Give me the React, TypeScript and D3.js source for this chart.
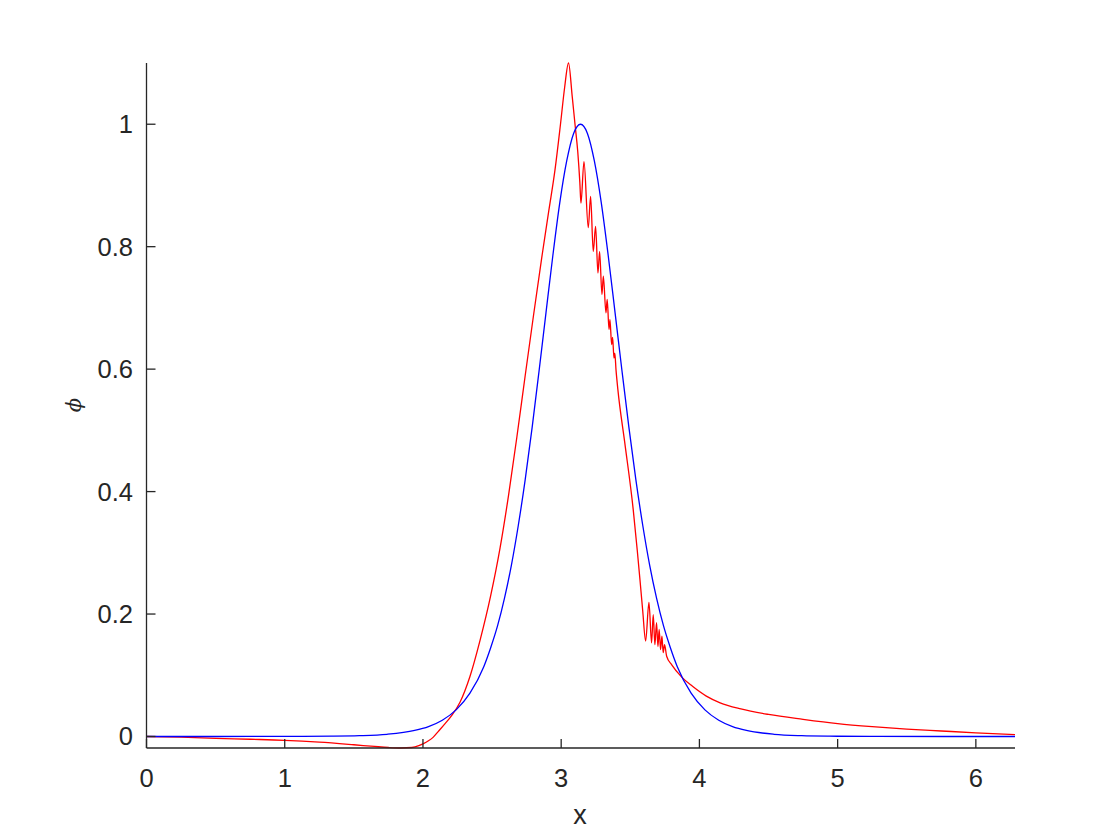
import React from "react";
import * as d3 from "d3";

const xTicks = [0, 1, 2, 3, 4, 5, 6];
const yTicks = [0, 0.2, 0.4, 0.6, 0.8, 1];
const yTickLabels = ["0", "0.2", "0.4", "0.6", "0.8", "1"];

const blueX = [0, 0.5, 1.0, 1.34, 1.54, 1.74, 1.94, 2.04, 2.14, 2.24, 2.34, 2.44, 2.49, 2.54, 2.59, 2.64, 2.69, 2.74, 2.79, 2.84, 2.89, 2.94, 2.99, 3.04, 3.09, 3.14,
  3.19, 3.24, 3.29, 3.34, 3.39, 3.44, 3.49, 3.54, 3.59, 3.64, 3.69, 3.74, 3.79, 3.84, 3.94, 4.04, 4.14, 4.24, 4.34, 4.54, 4.74, 4.94, 5.28, 5.78, 6.283];
const blueY = [0, 0, 0.0001, 0.0005, 0.0013, 0.0036, 0.0099, 0.0162, 0.0266, 0.0435, 0.0707, 0.114, 0.145, 0.181, 0.226, 0.28, 0.345, 0.42, 0.505, 0.597, 0.692, 0.786, 0.872, 0.94, 0.985, 1.0,
  0.985, 0.94, 0.872, 0.786, 0.692, 0.597, 0.505, 0.42, 0.345, 0.28, 0.226, 0.181, 0.145, 0.114, 0.0707, 0.0435, 0.0266, 0.0162, 0.0099, 0.0036, 0.0013, 0.0005, 0.0001, 0, 0];

const redX = [0, 0.25, 0.5, 0.75, 1.0, 1.25, 1.5, 1.65, 1.75, 1.84, 1.92, 1.97, 2.0, 2.04, 2.075, 2.11, 2.16, 2.21, 2.268, 2.34, 2.413, 2.49, 2.558,
  2.62, 2.68, 2.74, 2.8, 2.86, 2.91, 2.955, 2.995, 3.025, 3.053, 3.08, 3.1, 3.12, 3.135, 3.143,
  3.165, 3.196, 3.213, 3.232, 3.249, 3.266, 3.278, 3.295, 3.305, 3.324, 3.333, 3.346, 3.353, 3.365, 3.372, 3.382, 3.388, 3.397,
  3.41, 3.46, 3.521, 3.55, 3.57, 3.59, 3.611, 3.635, 3.654, 3.666, 3.678, 3.69, 3.7, 3.709, 3.719, 3.729, 3.738, 3.748, 3.763,
  3.8, 3.872, 3.95, 4.05, 4.15, 4.3, 4.5, 4.75, 5.0, 5.25, 5.5, 5.75, 6.0, 6.283];
const redY = [0, -0.0012, -0.003, -0.0045, -0.0062, -0.0092, -0.0135, -0.0163, -0.018, -0.0188, -0.018, -0.015, -0.012, -0.007, -0.001, 0.008, 0.021, 0.035, 0.056, 0.098, 0.157, 0.23, 0.308,
  0.395, 0.49, 0.59, 0.688, 0.783, 0.858, 0.925, 1.0, 1.06, 1.1, 1.045, 1.0, 0.955, 0.905, 0.871,
  0.939, 0.831, 0.882, 0.792, 0.833, 0.757, 0.792, 0.722, 0.752, 0.692, 0.714, 0.665, 0.681, 0.64, 0.652, 0.618, 0.626, 0.598,
  0.567, 0.48, 0.371, 0.305, 0.256, 0.205, 0.156, 0.219, 0.153, 0.199, 0.15, 0.186, 0.147, 0.175, 0.142, 0.164, 0.137, 0.15, 0.131,
  0.117, 0.097, 0.082, 0.066, 0.055, 0.045, 0.036, 0.028, 0.021, 0.016, 0.012, 0.009, 0.006, 0.003];

const W = 1120, H = 840;
const left = 146.5, right = 1015, top = 63, bottom = 748;
const axisColor = "#262626";
const font = "'Liberation Sans', Arial, Helvetica, sans-serif";

export default function App() {
  const x = d3.scaleLinear().domain([0, 2 * Math.PI]).range([left, right]);
  const y = d3.scaleLinear().domain([-0.0188, 1.1]).range([bottom, top]);
  const line = d3.line<[number, number]>().x(d => x(d[0])).y(d => y(d[1])).curve(d3.curveMonotoneX);
  const blue = line(blueX.map((v, i) => [v, blueY[i]] as [number, number])) || "";
  const red = line(redX.map((v, i) => [v, redY[i]] as [number, number])) || "";
  return (
    <svg width={W} height={H} style={{ position: "absolute", left: 0, top: 0, background: "#fff" }}>
      <rect x={0} y={0} width={W} height={H} fill="#fff" />
      <path d={red} fill="none" stroke="#ff0000" strokeWidth={1.3} />
      <path d={blue} fill="none" stroke="#0000ff" strokeWidth={1.3} />
      <line x1={left} x2={right} y1={bottom} y2={bottom} stroke={axisColor} strokeWidth={1.3} />
      <line x1={left} x2={left} y1={top} y2={bottom} stroke={axisColor} strokeWidth={1.3} />
      {xTicks.map(t => (
        <g key={"x" + t}>
          <line x1={x(t)} x2={x(t)} y1={bottom} y2={bottom - 9} stroke={axisColor} strokeWidth={1.3} />
          <text x={x(t)} y={787} textAnchor="middle" fontFamily={font} fontSize={25.5} fill={axisColor}>{t}</text>
        </g>
      ))}
      {yTicks.map((t, i) => (
        <g key={"y" + t}>
          <line x1={left} x2={left + 9} y1={y(t)} y2={y(t)} stroke={axisColor} strokeWidth={1.3} />
          <text x={133} y={y(t) + 9} textAnchor="end" fontFamily={font} fontSize={25.5} fill={axisColor}>{yTickLabels[i]}</text>
        </g>
      ))}
      <text x={580} y={824} textAnchor="middle" fontFamily={font} fontSize={27} fill={axisColor}>x</text>
      <text transform="translate(81,405) rotate(-90)" textAnchor="middle" fontFamily="'DejaVu Serif', serif" fontStyle="italic" fontSize={21} fill={axisColor}>ϕ</text>
    </svg>
  );
}
